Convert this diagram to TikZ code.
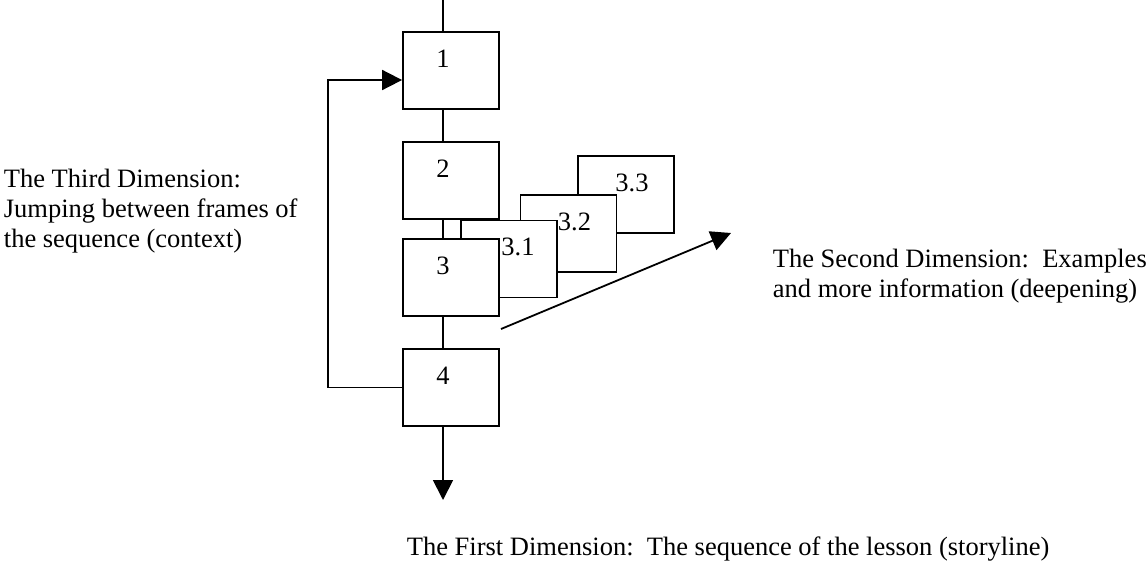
\documentclass[tikz,border=0pt]{standalone}
\usepackage{fontspec}
\setmainfont{Liberation Serif}
\usetikzlibrary{arrows.meta}
\usetikzlibrary{calc}
\tikzset{frame/.style={draw,fill=white,minimum width=96pt,minimum height=77pt,inner sep=0pt},
  num/.style={anchor=base,inner sep=0pt},
  txt/.style={align=left,inner sep=0pt,anchor=base west},
  tip/.style={-{Triangle[length=20pt,width=20pt]}}}
\begin{document}
\frenchspacing
\begin{tikzpicture}[x=1pt,y=-1pt,line width=1.8pt,font=\fontsize{26.5}{30.4}\selectfont]
\useasboundingbox (0,0) rectangle (1146,563);
\coordinate (axis) at (443,0);
\coordinate (end) at (443,500);
\coordinate (back) at (328,80);
\coordinate (deep) at (501,329);
\coordinate (deepend) at (731,233);
% second dimension: frames behind 3, back to front
\foreach \n/\t/\dx/\x/\y in {33/3.3/6/626/194.5,32/3.2/6/568.5/233.5,31/3.1/9/509/259}
  {\node[frame] (b\n) at (\x,\y) {};
   \node[num] (l\n) at ($(b\n.north)+(\dx,36)$) {\t};}
% first dimension: the storyline
\foreach \n/\y in {1/70.5,2/180.5,3/277.5,4/387.5}
  {\node[frame] (b\n) at (451,\y) {};
   \node[num] (l\n) at ($(b\n.north)+(-8,36)$) {\n};}
\draw (axis) -- (axis |- b1.north);
\foreach \a/\b in {1/2,2/3,3/4} \draw (axis |- b\a.south) -- (axis |- b\b.north);
\draw[tip] (axis |- b4.south) -- (end);
% third dimension: jump back
\draw[tip] (b4.west) -| (back) -- (back -| b1.west);
\draw[tip] (deep) -- (deepend);
% base is the last line here
\node[txt] (third) at (3,247.8) {The Third Dimension:\\Jumping between frames of\\the sequence (context)};
\node[txt] (second) at (772,297.4) {The Second Dimension:\ \ Examples\\and more information (deepening)};
\node[txt] (first) at (406,555) {The First Dimension:\ \ The sequence of the lesson (storyline)};
\end{tikzpicture}
\end{document}
